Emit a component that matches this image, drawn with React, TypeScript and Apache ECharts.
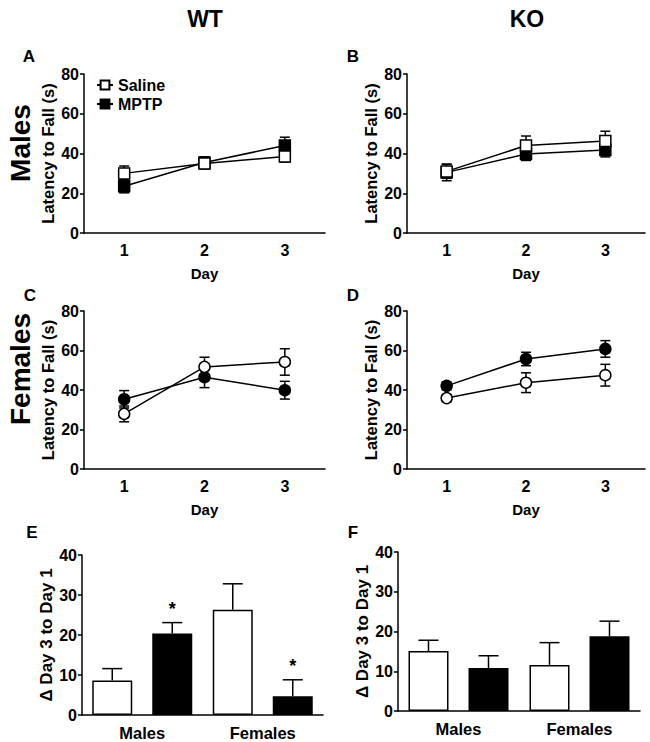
import React, { useEffect, useRef } from 'react';
import * as echarts from 'echarts';

const FONT = '"Liberation Sans", Arial, sans-serif';

const days = ['1', '2', '3'];
const sexes = ['Males', 'Females'];
const groupNames = ['Saline', 'MPTP'];

// Panel A: WT males
const wtMaleSaline = [30, 35, 38.5];
const wtMaleSalineSem = [3.7, 2.8, 2.8];
const wtMaleMptp = [23.5, 35.5, 44];
const wtMaleMptpSem = [3.3, 2.8, 4.2];
// Panel B: KO males
const koMaleSaline = [31, 44, 46.3];
const koMaleSalineSem = [3.5, 4.8, 4.9];
const koMaleMptp = [30.5, 39.7, 41.8];
const koMaleMptpSem = [4.2, 3.2, 3.5];
// Panel C: WT females
const wtFemSaline = [27.9, 51.7, 54.2];
const wtFemSalineSem = [4.0, 4.9, 6.7];
const wtFemMptp = [35.3, 46.5, 39.9];
const wtFemMptpSem = [4.4, 5.3, 4.5];
// Panel D: KO females
const koFemSaline = [35.9, 43.7, 47.5];
const koFemSalineSem = [1.8, 5.0, 5.5];
const koFemMptp = [42.1, 55.7, 60.8];
const koFemMptpSem = [2.0, 3.4, 4.2];
// Panel E: WT delta day3 - day1 (Males, Females)
const wtDeltaSaline = [8.6, 26.3];
const wtDeltaSalineErr = [3.0, 6.5];
const wtDeltaMptp = [20.4, 4.7];
const wtDeltaMptpErr = [2.7, 4.1];
const wtDeltaMptpSig = ['*', '*'];
// Panel F: KO delta
const koDeltaSaline = [15.1, 11.6];
const koDeltaSalineErr = [2.7, 5.6];
const koDeltaMptp = [10.8, 18.8];
const koDeltaMptpErr = [3.1, 3.8];
const koDeltaMptpSig = ['', ''];

const lineTicks = { min: 0, max: 80, interval: 20 };
const barTicks = { min: 0, max: 40, interval: 10 };

const BAR_W = 40;
const BAR_GAP = 20;

export default function App() {
  const ref = useRef<HTMLDivElement>(null);

  useEffect(() => {
    if (!ref.current) return;
    const chart = echarts.init(ref.current, null, { renderer: 'svg' });

    const axisLine = { lineStyle: { color: '#000', width: 1.5 } };
    const axisTick = { length: 4, lineStyle: { color: '#000', width: 1.5 } };
    const axisLabel = { color: '#000', fontWeight: 'bold', fontSize: 16, fontFamily: FONT };
    const nameStyle = { color: '#000', fontWeight: 'bold', fontSize: 16.5, fontFamily: FONT };

    const grids = [
      { left: 84, top: 74, width: 241, height: 159 },
      { left: 407, top: 74, width: 238, height: 159 },
      { left: 84, top: 311, width: 241, height: 158 },
      { left: 407, top: 311, width: 238, height: 158 },
      { left: 82, top: 555, width: 241, height: 160 },
      { left: 398, top: 552, width: 242, height: 159 },
    ];

    const xAxes: any[] = [];
    const yAxes: any[] = [];
    for (let i = 0; i < 4; i++) {
      xAxes.push({
        gridIndex: i, type: 'category', data: days, boundaryGap: true,
        axisLine, axisTick: { ...axisTick, alignWithLabel: true },
        axisLabel: { ...axisLabel, margin: 9 },
        name: 'Day', nameLocation: 'middle', nameGap: 33,
        nameTextStyle: { ...nameStyle, fontSize: 15 },
        splitLine: { show: false },
      });
      yAxes.push({
        gridIndex: i, type: 'value', ...lineTicks,
        axisLine: { show: true, ...axisLine }, axisTick: { show: true, ...axisTick },
        axisLabel: { ...axisLabel, margin: 5 },
        name: 'Latency to Fall (s)', nameLocation: 'middle', nameGap: 28,
        nameTextStyle: nameStyle,
        splitLine: { show: false },
      });
    }
    const barYGap = [17, 20];
    for (let j = 0; j < 2; j++) {
      xAxes.push({
        gridIndex: 4 + j, type: 'category', data: sexes, boundaryGap: true,
        axisLine, axisTick: { show: false },
        axisLabel: { ...axisLabel, fontSize: 16.5, margin: 9 },
        splitLine: { show: false },
      });
      yAxes.push({
        gridIndex: 4 + j, type: 'value', ...barTicks,
        axisLine: { show: true, ...axisLine }, axisTick: { show: true, ...axisTick },
        axisLabel: { ...axisLabel, margin: 5 },
        name: 'Δ Day 3 to Day 1', nameLocation: 'middle', nameGap: barYGap[j],
        nameTextStyle: { ...nameStyle, fontSize: 17 },
        splitLine: { show: false },
      });
    }

    const errStyle = { stroke: '#000', lineWidth: 1.5 };
    const lineErr = (idx: number, means: number[], sems: number[]) => ({
      type: 'custom', xAxisIndex: idx, yAxisIndex: idx, z: 1, silent: true,
      data: means.map((m, i) => [i, m, sems[i]]),
      renderItem: (params: any, api: any) => {
        const x = api.value(0), m = api.value(1), e = api.value(2);
        const hi = api.coord([x, m + e]);
        const lo = api.coord([x, m - e]);
        const cw = 5;
        return {
          type: 'group', children: [
            { type: 'line', shape: { x1: hi[0], y1: hi[1], x2: lo[0], y2: lo[1] }, style: errStyle },
            { type: 'line', shape: { x1: hi[0] - cw, y1: hi[1], x2: hi[0] + cw, y2: hi[1] }, style: errStyle },
            { type: 'line', shape: { x1: lo[0] - cw, y1: lo[1], x2: lo[0] + cw, y2: lo[1] }, style: errStyle },
          ],
        };
      },
    });

    const lineSeries = (idx: number, name: string, means: number[], symbol: string) => ({
      type: 'line', name, xAxisIndex: idx, yAxisIndex: idx, z: 3,
      data: means, symbol, symbolSize: 11, showSymbol: true,
      lineStyle: { color: '#000', width: 1.5 },
      itemStyle: name === 'Saline'
        ? { color: '#fff', borderColor: '#000', borderWidth: 1.5 }
        : { color: '#000', borderColor: '#000', borderWidth: 1.5 },
    });

    const barSeries = (idx: number, name: string, vals: number[]) => ({
      type: 'bar', name, xAxisIndex: idx, yAxisIndex: idx, z: 2,
      data: vals, barWidth: BAR_W, barGap: (BAR_GAP / BAR_W * 100) + '%',
      itemStyle: name === 'Saline'
        ? { color: '#fff', borderColor: '#000', borderWidth: 1.5 }
        : { color: '#000', borderColor: '#000', borderWidth: 1.5 },
    });

    const barErr = (idx: number, side: number, vals: number[], errs: number[], sig: string[]) => ({
      type: 'custom', xAxisIndex: idx, yAxisIndex: idx, z: 3, silent: true,
      data: vals.map((v, i) => [i, v, errs[i]]),
      renderItem: (params: any, api: any) => {
        const c = api.value(0), v = api.value(1), e = api.value(2);
        const base = api.coord([c, v]);
        const top = api.coord([c, v + e]);
        const x = base[0] + side * (BAR_W + BAR_GAP) / 2;
        const cw = 10;
        const children: any[] = [
          { type: 'line', shape: { x1: x, y1: base[1], x2: x, y2: top[1] }, style: errStyle },
          { type: 'line', shape: { x1: x - cw, y1: top[1], x2: x + cw, y2: top[1] }, style: errStyle },
        ];
        const s = sig[params.dataIndex];
        if (s) {
          children.push({
            type: 'text', x, y: top[1] - 5,
            style: { text: s, fill: '#000', font: `bold 18px ${FONT}`, textAlign: 'center', textVerticalAlign: 'bottom' },
          });
        }
        return { type: 'group', children };
      },
    });

    const series: any[] = [
      lineSeries(0, 'MPTP', wtMaleMptp, 'rect'),
      lineSeries(0, 'Saline', wtMaleSaline, 'rect'),
      lineErr(0, wtMaleSaline, wtMaleSalineSem),
      lineErr(0, wtMaleMptp, wtMaleMptpSem),
      lineSeries(1, 'MPTP', koMaleMptp, 'rect'),
      lineSeries(1, 'Saline', koMaleSaline, 'rect'),
      lineErr(1, koMaleSaline, koMaleSalineSem),
      lineErr(1, koMaleMptp, koMaleMptpSem),
      lineSeries(2, 'MPTP', wtFemMptp, 'circle'),
      lineSeries(2, 'Saline', wtFemSaline, 'circle'),
      lineErr(2, wtFemSaline, wtFemSalineSem),
      lineErr(2, wtFemMptp, wtFemMptpSem),
      lineSeries(3, 'MPTP', koFemMptp, 'circle'),
      lineSeries(3, 'Saline', koFemSaline, 'circle'),
      lineErr(3, koFemSaline, koFemSalineSem),
      lineErr(3, koFemMptp, koFemMptpSem),
      barSeries(4, 'Saline', wtDeltaSaline),
      barSeries(4, 'MPTP', wtDeltaMptp),
      barErr(4, -1, wtDeltaSaline, wtDeltaSalineErr, ['', '']),
      barErr(4, 1, wtDeltaMptp, wtDeltaMptpErr, wtDeltaMptpSig),
      barSeries(5, 'Saline', koDeltaSaline),
      barSeries(5, 'MPTP', koDeltaMptp),
      barErr(5, -1, koDeltaSaline, koDeltaSalineErr, ['', '']),
      barErr(5, 1, koDeltaMptp, koDeltaMptpErr, koDeltaMptpSig),
    ];

    const txt = (text: string, x: number, y: number, size: number, rot = 0) => ({
      type: 'text', x, y, rotation: rot,
      style: { text, fill: '#000', font: `bold ${size}px ${FONT}`, textAlign: 'center', textVerticalAlign: 'middle' },
    });

    chart.setOption({
      animation: false,
      backgroundColor: '#fff',
      grid: grids,
      xAxis: xAxes,
      yAxis: yAxes,
      legend: {
        data: groupNames, orient: 'vertical', left: 91, top: 72,
        itemWidth: 16, itemHeight: 11, itemGap: 3,
        textStyle: { color: '#000', fontWeight: 'bold', fontSize: 16, fontFamily: FONT },
        selectedMode: false,
      },
      graphic: [
        txt('WT', 205, 19, 23),
        txt('KO', 527, 19, 23),
        txt('A', 29, 56, 17),
        txt('B', 353, 56, 17),
        txt('C', 30, 295, 17),
        txt('D', 353, 295, 17),
        txt('E', 32, 532, 17),
        txt('F', 353, 532, 17),
        txt('Males', 20, 143, 28, Math.PI / 2),
        txt('Females', 20, 369, 28, Math.PI / 2),
      ],
      series,
    });

    return () => chart.dispose();
  }, []);

  return <div ref={ref} style={{ position: 'absolute', left: 0, top: 0, width: 650, height: 742 }} />;
}
